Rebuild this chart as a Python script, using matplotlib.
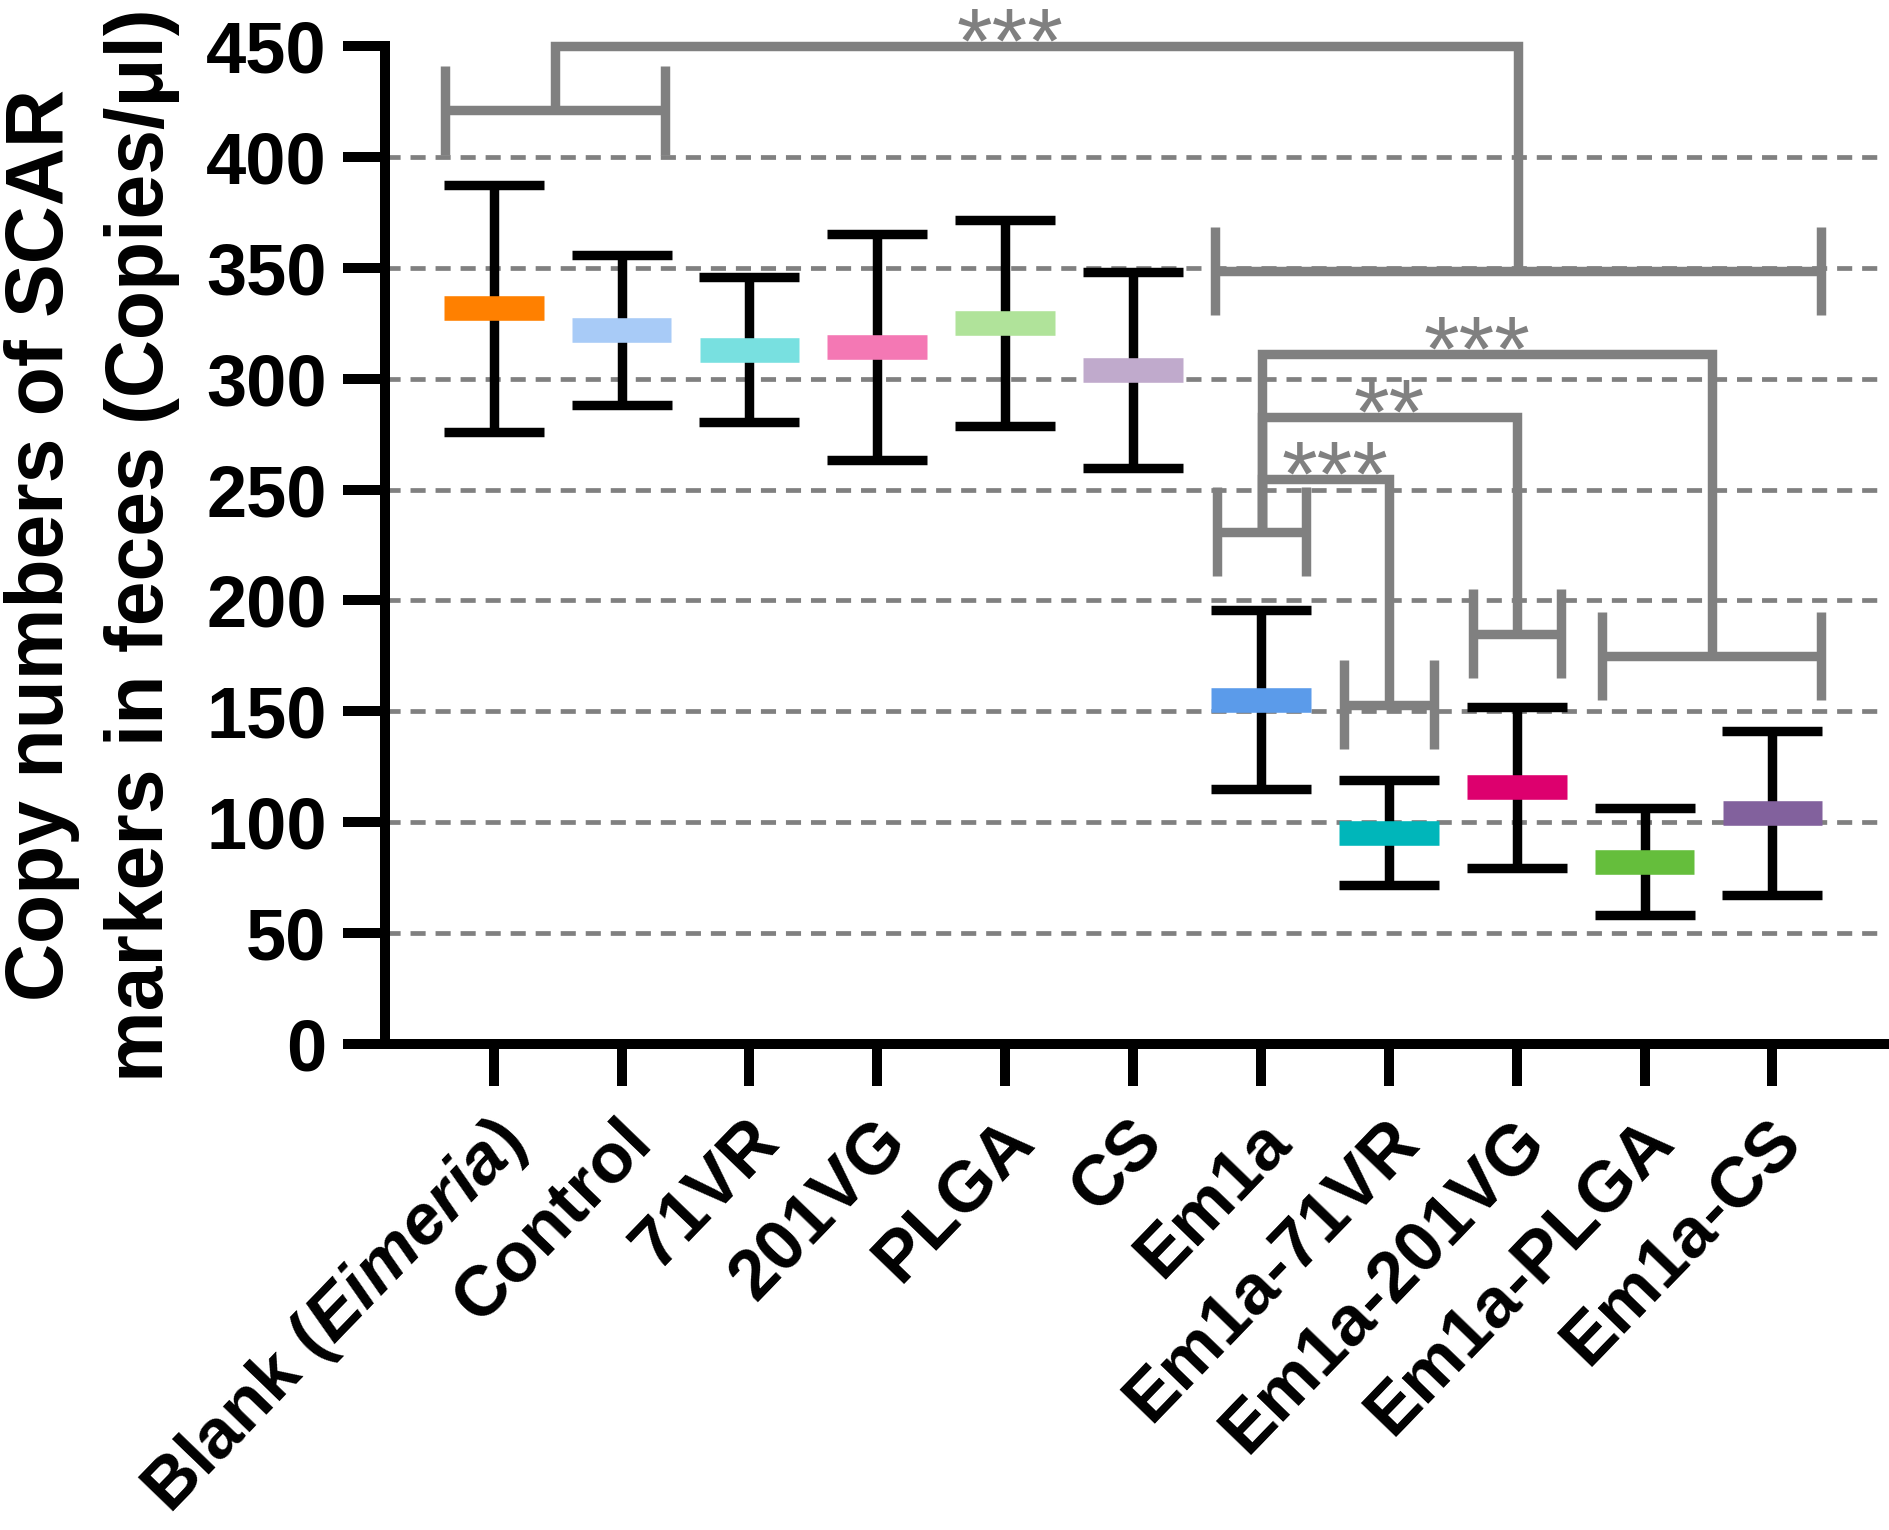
import matplotlib
matplotlib.use('Agg')
from matplotlib import pyplot as plt
from matplotlib.transforms import ScaledTranslation
import numpy as np

groups = ['Blank ($\\mathit{Eimeria}$)', 'Control', '71VR', '201VG', 'PLGA', 'CS',
          'Em1a', 'Em1a-71VR', 'Em1a-201VG', 'Em1a-PLGA', 'Em1a-CS']
means = [331.7, 321.9, 313.1, 314.3, 325.1, 303.9, 155.3, 95.3, 115.8, 82.3, 104.2]
sds = [55.6, 33.7, 32.7, 51.0, 46.6, 44.2, 40.5, 23.8, 36.3, 24.3, 36.8]
colors = ['#FF8000', '#A8CBF7', '#78E0E0', '#F478B4', '#B0E39A', '#C0AACC',
          '#5B9BEA', '#00B6BA', '#DD006E', '#65BE3C', '#82619D']
y_ticks = [0, 50, 100, 150, 200, 250, 300, 350, 400, 450]
grid_levels = [50, 100, 150, 200, 250, 300, 350, 400]

# significance spans drawn over groups: (left, right, level)
spans = {
    'blank_ctrl': (-0.38, 1.34, 421),
    'em_all': (5.64, 10.38, 348.5),
    'em1a': (5.66, 6.35, 231),
    'em71vr': (6.65, 7.35, 153),
    'em201vg': (7.66, 8.35, 185),
    'em_plga_cs': (8.67, 10.38, 175),
}
# (span a, span b, connector height, label, label x)
comparisons = [
    ('blank_ctrl', 'em_all', 450, '***', 4.04),
    ('em1a', 'em71vr', 254.6, '***', 6.58),
    ('em1a', 'em201vg', 282.5, '**', 7.0),
    ('em1a', 'em_plga_cs', 311, '***', 7.69),
]

plt.rcParams['font.family'] = 'Liberation Sans'
plt.rcParams['font.weight'] = 'bold'
plt.rcParams['mathtext.fontset'] = 'custom'
plt.rcParams['mathtext.rm'] = 'Liberation Sans:bold'
plt.rcParams['mathtext.it'] = 'Liberation Sans:italic:bold'

GRAY = '#808080'
LW = 6.8

fig = plt.figure(figsize=(18.9, 15.3), dpi=100)
ax = fig.add_axes([0.2037, 0.3176, 0.7943, 0.6524])

x = np.arange(len(groups))
means = np.array(means)
sds = np.array(sds)

ax.set_xlim(-0.85, 10.89)
ax.set_ylim(0, 450)

ax.hlines(grid_levels, -0.85, 10.89, colors=GRAY, linewidth=3.4,
          linestyles=(0, (3.2, 2.1)), zorder=1)

ax.errorbar(x, means, yerr=sds, fmt='none', ecolor='black', elinewidth=LW,
            capsize=36, capthick=LW, zorder=2)
bars = ax.hlines(means, x - 0.39, x + 0.39, colors=colors, linewidth=17.7, zorder=3)
bars.set_capstyle('butt')

# significance brackets
half_tick = 20
for xl, xr, yl in spans.values():
    ax.plot([xl, xr], [yl, yl], color=GRAY, lw=LW, solid_capstyle='butt',
            clip_on=False, zorder=4)
    for xe in (xl, xr):
        ax.plot([xe, xe], [yl - half_tick, yl + half_tick], color=GRAY, lw=LW,
                solid_capstyle='butt', clip_on=False, zorder=4)

for a, b, h, label, lx in comparisons:
    xa = (spans[a][0] + spans[a][1]) / 2
    xb = (spans[b][0] + spans[b][1]) / 2
    ax.plot([xa, xa, xb, xb], [spans[a][2], h, h, spans[b][2]], color=GRAY, lw=LW,
            solid_capstyle='butt', solid_joinstyle='miter', clip_on=False, zorder=4)
    ax.annotate(label, xy=(lx, h), xytext=(0, -19), textcoords='offset points',
                ha='center', va='baseline', fontsize=66, fontweight='normal',
                color=GRAY, annotation_clip=False, zorder=5)

for side in ('top', 'right'):
    ax.spines[side].set_visible(False)
for side in ('left', 'bottom'):
    ax.spines[side].set_linewidth(7.2)

ax.set_yticks(y_ticks)
ax.tick_params(axis='both', width=7.2, length=30, labelsize=52)
ax.tick_params(axis='y', pad=12)
ax.tick_params(axis='x', pad=16)
ax.set_xticks(x, groups, rotation=46, ha='right', va='top',
              rotation_mode='anchor', fontsize=51)
shift = ScaledTranslation(-5 / 100, 0, fig.dpi_scale_trans)
for lbl in ax.get_xticklabels():
    lbl.set_transform(lbl.get_transform() + shift)

ax.set_ylabel('Copy numbers of SCAR\nmarkers in feces (Copies/\u03bcl)',
              fontsize=58, fontweight='bold', linespacing=1.4, va='center')
ax.yaxis.set_label_coords(-0.195, 0.5)

fig.savefig('out.png', dpi=100)
